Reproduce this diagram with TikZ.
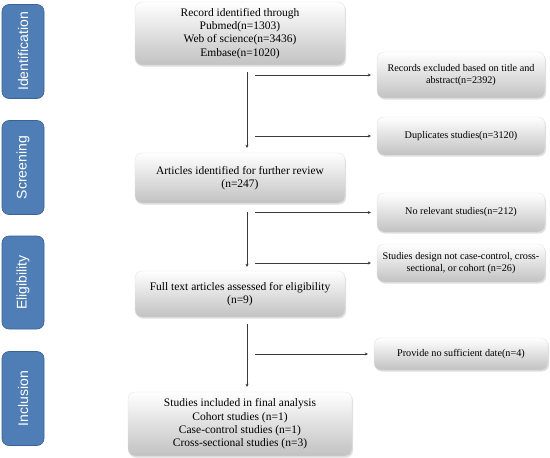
\documentclass[tikz,border=0pt]{standalone}
\usepackage{fontspec}
\setmainfont{Liberation Serif}
\newfontfamily\sansf{Liberation Sans}
\usetikzlibrary{arrows.meta,shadows}
\definecolor{phase}{HTML}{4F7DB5}
\definecolor{phaseedge}{HTML}{3A6294}
\definecolor{linec}{HTML}{3A3A3A}
\begin{document}
\begin{tikzpicture}[x=1pt,y=-1pt,
  phasebox/.style={rounded corners=7pt, fill=phase, draw=phaseedge, line width=0.6pt,
    rotate=90, minimum width=94pt, minimum height=42pt, inner sep=0pt,
    text=white, font=\sansf\fontsize{14}{16}\selectfont},
  mainbox/.style={rounded corners=7pt, top color=white, bottom color=black!24,
    draw=black!12, line width=0.3pt, drop shadow={opacity=0.25, shadow xshift=1pt, shadow yshift=-1.5pt},
    align=center, inner sep=0pt, font=\fontsize{11.5}{13.3}\selectfont},
  sidebox/.style={mainbox, font=\fontsize{10.2}{12.3}\selectfont},
  flow/.style={draw=linec, line width=0.8pt, -{Stealth[length=3pt,width=3pt]}}
]
\useasboundingbox (0,0) rectangle (550,458);

% phase labels
\node[phasebox] (pid) at (23,51.5) {Identification};
\node[phasebox] (pscr) at (23,167.5) {Screening};
\node[phasebox, minimum width=93pt] (pel) at (23,282.5) {Eligibility};
\node[phasebox] (pinc) at (23,398.5) {Inclusion};

% main column
\node[mainbox, minimum width=210pt, minimum height=63pt] (b1) at (240,33.5)
  {Record identified through\\Pubmed(n=1303)\\Web of science(n=3436)\\Embase(n=1020)};
\node[mainbox, minimum width=210pt, minimum height=50pt] (b2) at (240,178)
  {Articles identified for further review\\(n=247)};
\node[mainbox, minimum width=210pt, minimum height=46pt] (b3) at (240,294)
  {Full text articles assessed for eligibility\\(n=9)};
\node[mainbox, minimum width=224pt, minimum height=64pt] (b4) at (240,424)
  {Studies included in final analysis\\Cohort studies (n=1)\\Case-control studies (n=1)\\Cross-sectional studies (n=3)};

% side boxes
\node[sidebox, minimum width=168pt, minimum height=46pt] (r1) at (461,75)
  {Records excluded based on title and\\abstract(n=2392)};
\node[sidebox, minimum width=168pt, minimum height=38pt] (r2) at (461,136)
  {Duplicates studies(n=3120)};
\node[sidebox, minimum width=168pt, minimum height=39pt] (r3) at (461,212.5)
  {No relevant studies(n=212)};
\node[sidebox, minimum width=168pt, minimum height=38pt] (r4) at (461,263)
  {Studies design not case-control, cross-\\sectional, or cohort (n=26)};
\node[sidebox, minimum width=174pt, minimum height=32pt] (r5) at (461,354)
  {Provide no sufficient date(n=4)};

% connectors
\coordinate (v) at (247,0);
\coordinate (h) at (255,0);
\draw[flow, shorten <=7pt, shorten >=5pt] (b1.south -| v) -- (b2.north -| v);
\draw[flow, shorten <=9pt, shorten >=4pt] (b2.south -| v) -- (b3.north -| v);
\draw[flow, shorten <=7pt, shorten >=5pt] (b3.south -| v) -- (b4.north -| v);

\draw[flow, shorten >=6pt] (h |- r1.west) -- (r1.west);
\draw[flow, shorten >=6pt] (h |- r2.west) -- (r2.west);
\draw[flow, shorten >=6pt] (h |- r3.west) -- (r3.west);
\draw[flow, shorten >=6pt] (h |- r4.west) -- (r4.west);
\draw[flow, shorten >=6pt] (h |- r5.west) -- (r5.west);
\end{tikzpicture}
\end{document}
